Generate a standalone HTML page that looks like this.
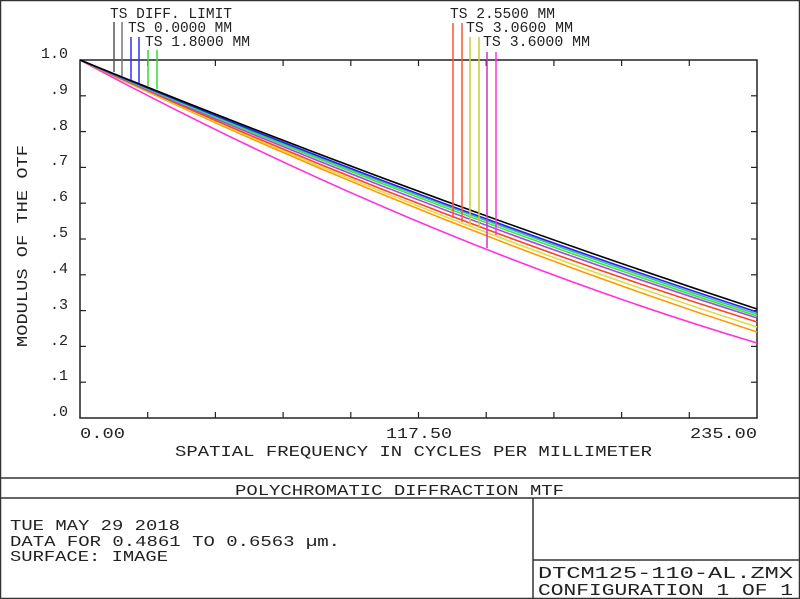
<!DOCTYPE html>
<html><head><meta charset="utf-8"><style>
html,body{margin:0;padding:0;background:#fff}
svg{display:block}
text{font-family:"Liberation Mono",monospace;fill:#222}
</style></head><body>
<svg width="800" height="599" viewBox="0 0 800 599" xmlns="http://www.w3.org/2000/svg">
<rect x="0.5" y="0.5" width="799" height="598" fill="#fff" stroke="#333" stroke-width="1.5"/>
<line x1="0" y1="478" x2="800" y2="478" stroke="#333" stroke-width="1.5"/>
<line x1="0" y1="498" x2="800" y2="498" stroke="#333" stroke-width="1.5"/>
<line x1="533" y1="498" x2="533" y2="599" stroke="#333" stroke-width="1.5"/>
<line x1="533" y1="560" x2="800" y2="560" stroke="#333" stroke-width="1.5"/>
<rect x="80" y="60" width="677" height="358" fill="none" stroke="#222" stroke-width="1.5"/>
<g stroke="#222" stroke-width="1.2">
<line x1="147.7" y1="418" x2="147.7" y2="412"/><line x1="215.4" y1="418" x2="215.4" y2="412"/><line x1="283.1" y1="418" x2="283.1" y2="412"/><line x1="350.8" y1="418" x2="350.8" y2="412"/><line x1="418.5" y1="418" x2="418.5" y2="412"/><line x1="486.2" y1="418" x2="486.2" y2="412"/><line x1="553.9" y1="418" x2="553.9" y2="412"/><line x1="621.6" y1="418" x2="621.6" y2="412"/><line x1="689.3" y1="418" x2="689.3" y2="412"/>
<line x1="147.7" y1="60" x2="147.7" y2="66"/><line x1="215.4" y1="60" x2="215.4" y2="66"/><line x1="283.1" y1="60" x2="283.1" y2="66"/><line x1="350.8" y1="60" x2="350.8" y2="66"/><line x1="418.5" y1="60" x2="418.5" y2="66"/><line x1="486.2" y1="60" x2="486.2" y2="66"/><line x1="553.9" y1="60" x2="553.9" y2="66"/><line x1="621.6" y1="60" x2="621.6" y2="66"/><line x1="689.3" y1="60" x2="689.3" y2="66"/>
<line x1="80" y1="95.8" x2="86" y2="95.8"/><line x1="80" y1="131.6" x2="86" y2="131.6"/><line x1="80" y1="167.4" x2="86" y2="167.4"/><line x1="80" y1="203.2" x2="86" y2="203.2"/><line x1="80" y1="239" x2="86" y2="239"/><line x1="80" y1="274.8" x2="86" y2="274.8"/><line x1="80" y1="310.6" x2="86" y2="310.6"/><line x1="80" y1="346.4" x2="86" y2="346.4"/><line x1="80" y1="382.2" x2="86" y2="382.2"/>
<line x1="757" y1="95.8" x2="751" y2="95.8"/><line x1="757" y1="131.6" x2="751" y2="131.6"/><line x1="757" y1="167.4" x2="751" y2="167.4"/><line x1="757" y1="203.2" x2="751" y2="203.2"/><line x1="757" y1="239" x2="751" y2="239"/><line x1="757" y1="274.8" x2="751" y2="274.8"/><line x1="757" y1="310.6" x2="751" y2="310.6"/><line x1="757" y1="346.4" x2="751" y2="346.4"/><line x1="757" y1="382.2" x2="751" y2="382.2"/>
</g>
<g font-size="15" text-anchor="end">
<text x="68" y="58">1.0</text><text x="68" y="94">.9</text><text x="68" y="130">.8</text><text x="68" y="165">.7</text><text x="68" y="201">.6</text><text x="68" y="237">.5</text><text x="68" y="273">.4</text><text x="68" y="309">.3</text><text x="68" y="345">.2</text><text x="68" y="380">.1</text><text x="68" y="416">.0</text>
</g>
<g font-size="15" lengthAdjust="spacingAndGlyphs">
<text x="80" y="438" textLength="45" lengthAdjust="spacingAndGlyphs">0.00</text>
<text x="386" y="438" textLength="66" lengthAdjust="spacingAndGlyphs">117.50</text>
<text x="690" y="438" textLength="67" lengthAdjust="spacingAndGlyphs">235.00</text>
<text x="175" y="456" textLength="477" lengthAdjust="spacingAndGlyphs">SPATIAL FREQUENCY IN CYCLES PER MILLIMETER</text>
<text transform="translate(27,347) rotate(-90)" textLength="202" lengthAdjust="spacingAndGlyphs">MODULUS OF THE OTF</text>
</g>
<g fill="none" stroke-width="1.6">
<path d="M80,60 Q418.5,242 757,343" stroke="#ff33dd"/>
<path d="M80,60 Q418.5,222 757,332" stroke="#ff9900"/>
<path d="M80,60 Q418.5,219 757,327" stroke="#dddd44"/>
<path d="M80,60 Q418.5,216 757,322" stroke="#ff4422"/>
<path d="M80,60 Q418.5,211 757,318" stroke="#aa44ee"/>
<path d="M80,60 Q418.5,207 757,316" stroke="#33ee33"/>
<path d="M80,60 Q418.5,204 757,314" stroke="#44bb99"/>
<path d="M80,60 Q418.5,202 757,312" stroke="#2222ff"/>
<path d="M80,60 Q418.5,198 757,309" stroke="#000"/>
</g>
<g stroke-width="1.5">
<line x1="114" y1="22" x2="114" y2="72" stroke="#555"/><line x1="122" y1="22" x2="122" y2="76" stroke="#777"/>
<line x1="131" y1="37" x2="131" y2="80" stroke="#3333ff"/><line x1="139" y1="37" x2="139" y2="83" stroke="#3333ff"/>
<line x1="148" y1="50" x2="148" y2="86" stroke="#33dd33"/><line x1="157" y1="50" x2="157" y2="89" stroke="#33dd33"/>
<line x1="453" y1="23" x2="453" y2="218" stroke="#ff5533"/><line x1="462" y1="23" x2="462" y2="222" stroke="#ff5533"/>
<line x1="470" y1="37" x2="470" y2="225" stroke="#cccc33"/><line x1="479" y1="37" x2="479" y2="228" stroke="#cccc33"/>
<line x1="487" y1="52" x2="487" y2="248" stroke="#cc33cc"/><line x1="496" y1="52" x2="496" y2="235" stroke="#ff33dd"/>
</g>
<g font-size="15">
<text x="110" y="18" textLength="122" lengthAdjust="spacingAndGlyphs">TS DIFF. LIMIT</text>
<text x="128" y="32" textLength="104" lengthAdjust="spacingAndGlyphs">TS 0.0000 MM</text>
<text x="145" y="46" textLength="105" lengthAdjust="spacingAndGlyphs">TS 1.8000 MM</text>
<text x="450" y="18" textLength="105" lengthAdjust="spacingAndGlyphs">TS 2.5500 MM</text>
<text x="466" y="32" textLength="107" lengthAdjust="spacingAndGlyphs">TS 3.0600 MM</text>
<text x="483" y="46" textLength="107" lengthAdjust="spacingAndGlyphs">TS 3.6000 MM</text>
<text x="235" y="495" textLength="329" lengthAdjust="spacingAndGlyphs">POLYCHROMATIC DIFFRACTION MTF</text>
<text x="10" y="530" textLength="170" lengthAdjust="spacingAndGlyphs">TUE MAY 29 2018</text>
<text x="10" y="546" textLength="330" lengthAdjust="spacingAndGlyphs">DATA FOR 0.4861 TO 0.6563 µm.</text>
<text x="10" y="561" textLength="158" lengthAdjust="spacingAndGlyphs">SURFACE: IMAGE</text>
</g>
<g font-size="17">
<text x="538" y="578" textLength="255" lengthAdjust="spacingAndGlyphs">DTCM125-110-AL.ZMX</text>
<text x="538" y="595" textLength="255" lengthAdjust="spacingAndGlyphs">CONFIGURATION 1 OF 1</text>
</g>
</svg>
</body></html>
